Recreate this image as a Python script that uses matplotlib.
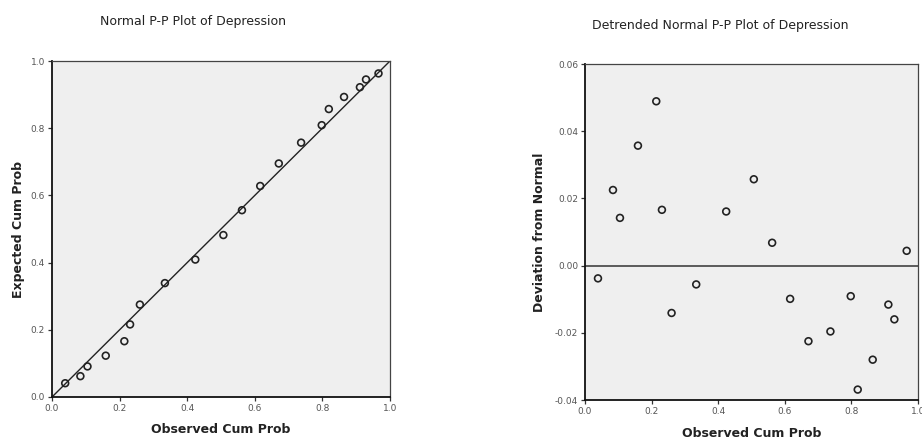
import matplotlib
matplotlib.use("Agg")
import matplotlib.pyplot as plt

observed = [0.039, 0.084, 0.105, 0.159, 0.214, 0.231, 0.260, 0.334, 0.424, 0.507,
            0.562, 0.616, 0.671, 0.737, 0.798, 0.819, 0.864, 0.911, 0.929, 0.966]
expected = [0.041, 0.062, 0.091, 0.123, 0.166, 0.216, 0.275, 0.339, 0.409, 0.482,
            0.556, 0.628, 0.695, 0.757, 0.809, 0.857, 0.893, 0.922, 0.945, 0.963]
deviation = [-0.0038, 0.0225, 0.0142, 0.0357, 0.0489, 0.0166, -0.0141, -0.0056, 0.0161, 0.0257,
             0.0068, -0.0099, -0.0225, -0.0196, -0.0091, -0.0369, -0.028, -0.0116, -0.016, 0.0044]

pp_ticks = [0.0, 0.2, 0.4, 0.6, 0.8, 1.0]
pp_ticklabels = ["0.0", "0.2", "0.4", "0.6", "0.8", "1.0"]
dev_ticks = [-0.04, -0.02, 0.00, 0.02, 0.04, 0.06]
dev_ticklabels = ["-0.04", "-0.02", "0.00", "0.02", "0.04", "0.06"]
diag_line = [0.0, 1.0]

W, H = 922, 441
fig = plt.figure(figsize=(W / 100, H / 100), dpi=100)
bg = "#efefef"

def frac(x0, y0, x1, y1):
    return [x0 / W, 1 - y1 / H, (x1 - x0) / W, (y1 - y0) / H]

def style(ax):
    ax.set_facecolor(bg)
    for s in ["left", "bottom"]:
        ax.spines[s].set_linewidth(1.3)
        ax.spines[s].set_color("#111111")
    for s in ["top", "right"]:
        ax.spines[s].set_linewidth(0.9)
        ax.spines[s].set_color("#444444")
    ax.tick_params(direction="out", length=3, width=0.9, labelsize=6.5, pad=2,
                   labelcolor="#555555", color="#333333")

ax1 = fig.add_axes(frac(52, 61, 390, 397))
style(ax1)
ax1.plot(diag_line, diag_line, color="#222222", lw=1.0, zorder=2)
ax1.scatter(observed, expected, s=24, facecolors="none", edgecolors="#222222",
            linewidths=1.2, zorder=3)
ax1.set_xlim(0, 1)
ax1.set_ylim(0, 1)
ax1.set_xticks(pp_ticks)
ax1.set_xticklabels(pp_ticklabels)
ax1.set_yticks(pp_ticks)
ax1.set_yticklabels(pp_ticklabels)
ax1.set_xlabel("Observed Cum Prob", fontsize=9, fontweight="bold", color="#222222", labelpad=7)
ax1.set_ylabel("Expected Cum Prob", fontsize=9, fontweight="bold", color="#222222", labelpad=4)

ax2 = fig.add_axes(frac(585, 64, 918, 400))
style(ax2)
ax2.axhline(0.0, color="#333333", lw=1.1, zorder=2)
ax2.scatter(observed, deviation, s=24, facecolors="none", edgecolors="#222222",
            linewidths=1.2, zorder=3)
ax2.set_xlim(0, 1)
ax2.set_ylim(-0.04, 0.06)
ax2.set_xticks(pp_ticks)
ax2.set_xticklabels(pp_ticklabels)
ax2.set_yticks(dev_ticks)
ax2.set_yticklabels(dev_ticklabels)
ax2.set_xlabel("Observed Cum Prob", fontsize=9, fontweight="bold", color="#222222", labelpad=8)
ax2.set_ylabel("Deviation from Normal", fontsize=9, fontweight="bold", color="#222222", labelpad=6)

fig.text(193 / W, 1 - 22 / H, "Normal P-P Plot of Depression", ha="center", va="center",
         fontsize=9, color="#222222")
fig.text(720 / W, 1 - 26 / H, "Detrended Normal P-P Plot of Depression", ha="center", va="center",
         fontsize=9, color="#222222")

fig.savefig("out.png", dpi=100, facecolor="white")
